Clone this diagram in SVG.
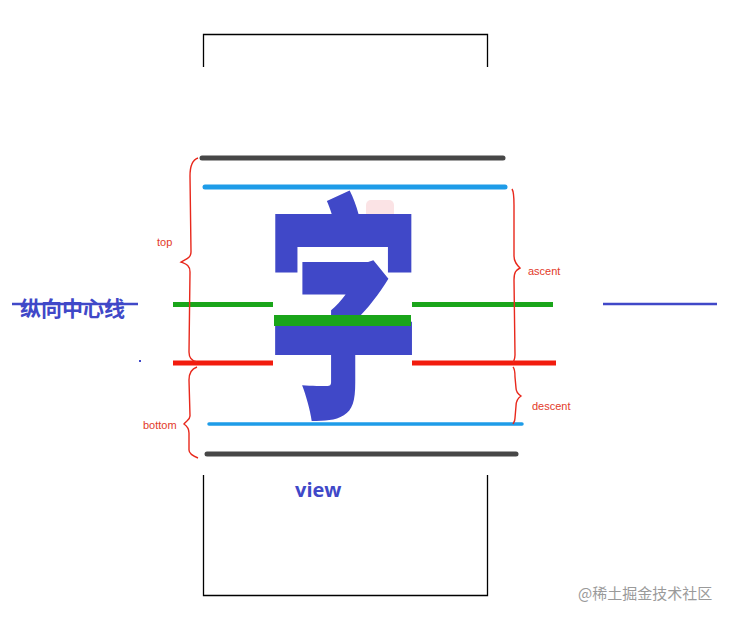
<svg xmlns="http://www.w3.org/2000/svg" width="732" height="620" viewBox="0 0 732 620">
<style>
.frame{fill:none;stroke:#000;stroke-width:1.3}
.gray{stroke:#474747;stroke-width:5;stroke-linecap:round}
.blue{stroke:#1e9ce8;stroke-width:5;stroke-linecap:round}
.green{stroke:#1aa51a;stroke-width:5}
.red{stroke:#f21c0e;stroke-width:5}
.brace{fill:none;stroke:#e8281c;stroke-width:1.4}
.lbl{font-family:"Liberation Sans",sans-serif;font-size:11px;fill:#e23a2a}
.bl{fill:#4048c8;font-weight:bold}
</style>
<rect width="732" height="620" fill="#fff"/>
<g id="view-frame">
<path class="frame" d="M203.5,67 V34.5 H487.5 V67"/>
<path class="frame" d="M203.5,475 V595.5 H487.5 V475"/>
<text class="bl" x="295" y="497" font-family="'Open Sans','Noto Sans',sans-serif" font-size="20">view</text>
</g>
<g id="glyph">
<rect x="366" y="200" width="28" height="26" rx="5" fill="#f7c8cc" opacity="0.5"/>
<text x="0" y="0" font-family="'Noto Sans CJK SC',sans-serif" font-weight="900" font-size="152" fill="#4048c8" transform="translate(266,398) scale(1.02,1.58)">字</text>
<rect x="274" y="315" width="137" height="11" fill="#1aa51a"/>
</g>
<g id="connectors">
<line class="gray" x1="202" y1="158" x2="503" y2="158"/>
<line class="blue" x1="205" y1="187" x2="505" y2="187"/>
<line class="green" x1="173" y1="304.5" x2="273" y2="304.5"/>
<line class="green" x1="412" y1="304.5" x2="553" y2="304.5"/>
<line class="red" x1="173" y1="363" x2="273" y2="363"/>
<line class="red" x1="412" y1="363" x2="556" y2="363"/>
<line class="blue" x1="209" y1="424" x2="522" y2="424" style="stroke-width:3.5"/>
<line class="gray" x1="207" y1="454" x2="516" y2="454"/>
<line x1="12" y1="304" x2="138" y2="304" stroke="#4048c8" stroke-width="2.5"/>
<line x1="603" y1="304" x2="717" y2="304" stroke="#4048c8" stroke-width="2.5"/>
<rect x="139" y="360" width="2" height="2" fill="#4048c8"/>
</g>
<g id="braces">
<path class="brace" d="M198,158 C192,160 190,166 190,176 L191,252 C191,258 186,259 181,262 C186,264 190,265 190,272 L189,352 C189,358 192,361 197,362"/>
<path class="brace" d="M197,367 C191,369 189,373 189,380 L190,416 C190,420 186,421 184,424 C187,426 189,428 189,433 L189,450 C189,454 193,456 198,458"/>
<path class="brace" d="M512,189 C514,192 514,196 514,205 L514,256 C514,262 517,265 520,268 C516,270 514,272 514,280 L515,355 C515,359 514,360 513,363"/>
<path class="brace" d="M513,367 C515,369 515,372 515,377 L516,388 C516,392 518,394 521,396 C518,398 516,400 516,406 L515,418 C515,421 514,422 513,424"/>
<text class="lbl" x="157" y="246">top</text>
<text class="lbl" x="143" y="429">bottom</text>
<text class="lbl" x="528" y="275">ascent</text>
<text class="lbl" x="532" y="410">descent</text>
</g>
<g id="center-label">
<text class="bl" x="20" y="316" font-family="'Noto Sans CJK SC',sans-serif" font-size="21">纵向中心线</text>
</g>
<text x="578" y="599" font-family="'Noto Sans CJK SC',sans-serif" font-size="15" fill="#9a9a9a">@稀土掘金技术社区</text>
</svg>
